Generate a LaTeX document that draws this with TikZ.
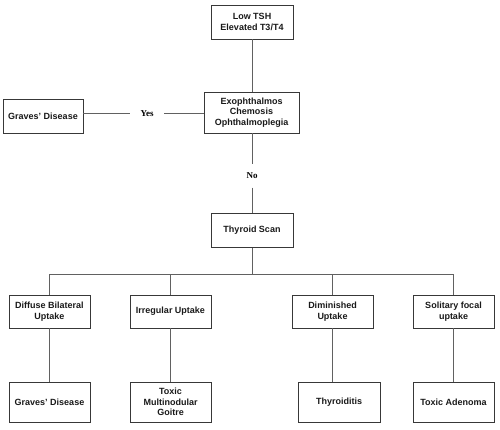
\documentclass[tikz,border=0pt]{standalone}
\usepackage{fontspec}
\setmainfont{Liberation Sans}
\newfontfamily\labfont{Liberation Serif}
\begin{document}
\begin{tikzpicture}[x=1pt,y=-1pt,
  box/.style={draw=black!78, line width=0.8pt, align=center, inner sep=0pt,
    font=\fontsize{9}{10.4}\selectfont\bfseries, text=black!90},
  conn/.style={draw=black!62, line width=0.8pt},
  lab/.style={font=\labfont\fontsize{9}{10}\selectfont\bfseries, inner xsep=0pt, inner ysep=0pt}]
\useasboundingbox (0,0) rectangle (500,429);
\node[box, minimum width=82pt, minimum height=34pt] (top) at (252,22) {Low TSH\\Elevated T3/T4};
\node[box, minimum width=95pt, minimum height=41pt] (exo) at (251.5,112.5) {Exophthalmos\\Chemosis\\Ophthalmoplegia};
\node[box, minimum width=80pt, minimum height=34pt] (gd) at (43,116) {Graves' Disease};
\node[box, minimum width=82pt, minimum height=34pt] (scan) at (252,230.5) {Thyroid Scan};
\node[lab, minimum width=34pt, minimum height=8pt] (yes) at (147,113.3) {Yes};
\node[lab, minimum width=12pt, minimum height=23pt] (no) at (252,176) {No};
\node[box, minimum width=81pt, minimum height=33pt] (d1) at (49.5,311.5) {Diffuse Bilateral\\Uptake};
\node[box, minimum width=81pt, minimum height=33pt] (d2) at (170.5,311.5) {Irregular Uptake};
\node[box, minimum width=81pt, minimum height=33pt] (d3) at (332.5,311.5) {Diminished\\Uptake};
\node[box, minimum width=81pt, minimum height=33pt] (d4) at (453.5,311.5) {Solitary focal\\uptake};
\node[box, minimum width=81pt, minimum height=40pt] (r1) at (49.5,402) {Graves' Disease};
\node[box, minimum width=81pt, minimum height=40pt] (r2) at (170.5,402) {Toxic\\Multinodular\\Goitre};
\node[box, minimum width=82pt, minimum height=40pt] (r3) at (339,402.3) {Thyroiditis};
\node[box, minimum width=81pt, minimum height=40pt] (r4) at (453.5,402) {Toxic Adenoma};
\coordinate (bus) at (252,274);
\coordinate (r3in) at (332.5,382.3);
\draw[conn] (top.south) -- (top.south |- exo.north);
\draw[conn] (exo.west |- yes) -- (yes) -- (yes -| gd.east);
\draw[conn] (exo.south -| top.south) -- (no) -- (no |- scan.north);
\draw[conn] (scan.south) -- (bus);
\draw[conn] (d1.north) -- (d1.north |- bus) -- (d4.north |- bus) -- (d4.north);
\draw[conn] (d2.north) -- (d2.north |- bus);
\draw[conn] (d3.north) -- (d3.north |- bus);
\draw[conn] (d1.south) -- (r1.north);
\draw[conn] (d2.south) -- (r2.north);
\draw[conn] (d3.south) -- (r3in);
\draw[conn] (d4.south) -- (r4.north);
\end{tikzpicture}
\end{document}
